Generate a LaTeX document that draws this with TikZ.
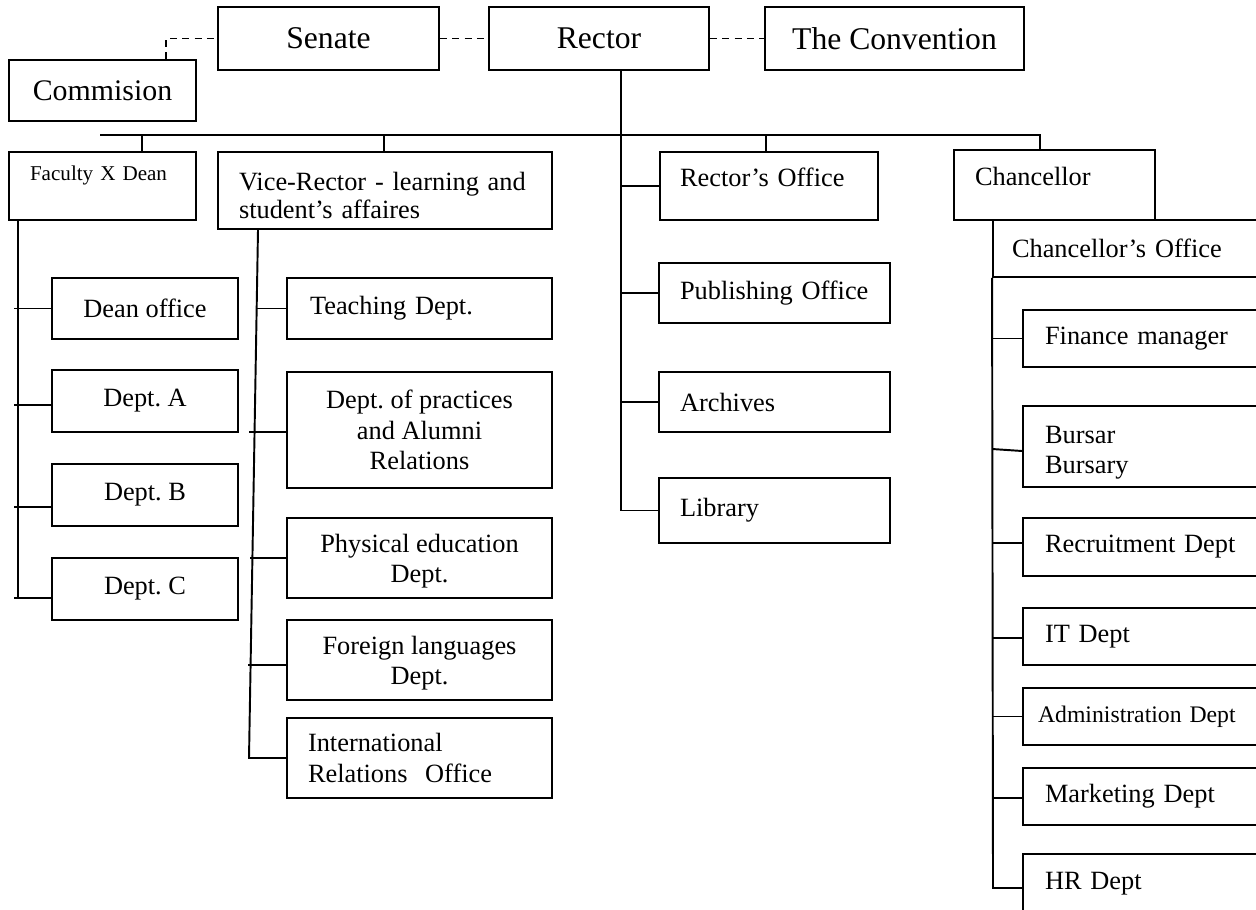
\documentclass[tikz,border=0pt]{standalone}
\usepackage{fontspec}
\setmainfont{Liberation Serif}
\frenchspacing

\begin{document}
\begin{tikzpicture}[
x=0.02cm, y=-0.02cm,
box/.style={draw, line width=1.1pt, inner ysep=0pt, inner xsep=2pt, align=center, font=\fontsize{15}{17.5}\selectfont},
headbox/.style={box, font=\fontsize{18}{21}\selectfont},
lbox/.style={box, align=left},
deancol/.style={box, minimum width=3.72cm, minimum height=1.24cm},
vrcol/.style={box, minimum width=5.30cm},
rectcol/.style={lbox, text width=3.78cm, inner xsep=0.42cm},
chcol/.style={lbox, text width=4.16cm, inner xsep=0.44cm, minimum height=1.14cm},
link/.style={line width=1.1pt},
dashlink/.style={line width=1.1pt, dash pattern=on 4pt off 3pt},
]
\useasboundingbox (0,0) rectangle (1256,909);
\clip (0,0) rectangle (1256,909);

%Top row
\node[headbox, minimum width=4.42cm, minimum height=1.26cm] (senate) at (328.5,38.5) {Senate};
\node[headbox, minimum width=4.40cm, minimum height=1.26cm] (rector) at (599,38.5) {Rector};
\node[headbox, minimum width=5.18cm, minimum height=1.26cm] (convention) at (894.5,38.5) {The Convention};
\node[headbox, minimum width=3.74cm, minimum height=1.22cm, font=\fontsize{17}{20}\selectfont] (commision) at (102.5,90.5) {Commision};

%Second row
\node[lbox, text width=2.90cm, inner xsep=0.42cm, minimum height=1.36cm, text height=8pt, text depth=13.7pt, font=\fontsize{12}{14}\selectfont] (faculty) at (102.5,186) {Faculty X Dean};
\node[lbox, text width=5.84cm, inner xsep=0.42cm, minimum height=1.54cm, font=\fontsize{15}{16}\selectfont] (vicerector) at (385,190.5) {\rule{0pt}{16pt}Vice-Rector - learning and\\student's affaires};
\node[lbox, text width=3.56cm, inner xsep=0.40cm, minimum height=1.36cm, text height=10pt, text depth=10pt] (roffice) at (769,186) {Rector's Office};
\node[lbox, text width=3.18cm, inner xsep=0.42cm, minimum height=1.40cm, text height=10pt, text depth=10pt] (chancellor) at (1054.5,185) {Chancellor};
\node[lbox, text width=4.88cm, inner xsep=0.38cm, minimum height=1.14cm] (choffice) at (1134,248.5) {Chancellor's Office};

%Faculty
\node[deancol, minimum height=1.22cm] (deanoff) at (145,308.5) {Dean office};
\node[deancol] (depta) at (145,401) {Dept. A};
\node[deancol] (deptb) at (145,495) {Dept. B};
\node[deancol] (deptc) at (145,589) {Dept. C};

%Vice-Rector
\node[vrcol, lbox, text width=4.38cm, inner xsep=0.46cm, minimum height=1.22cm] (teaching) at (419.5,308.5) {Teaching Dept.};
\node[vrcol, minimum height=2.32cm] (practices) at (419.5,430) {Dept. of practices\\and Alumni\\Relations};
\node[vrcol, minimum height=1.60cm] (physed) at (419.5,558) {\rule{0pt}{14pt}Physical education\\Dept.};
\node[vrcol, minimum height=1.60cm] (foreign) at (419.5,660) {\rule{0pt}{14pt}Foreign languages\\Dept.};
\node[lbox, text width=4.46cm, inner xsep=0.42cm, minimum height=1.60cm] (intl) at (419.5,758) {International\\Relations\ \ Office};

%Rector
\node[rectcol, minimum height=1.20cm] (publishing) at (774.5,293) {Publishing Office};
\node[rectcol, minimum height=1.20cm] (archives) at (774.5,402) {Archives};
\node[rectcol, minimum height=1.30cm] (library) at (774.5,510.5) {Library};

%Chancellor
\node[chcol] (finance) at (1149,338.5) {Finance manager};
\node[chcol, minimum height=1.62cm] (bursar) at (1149,446.5) {\rule{0pt}{17pt}Bursar\\Bursary};
\node[chcol, minimum height=1.16cm] (recruit) at (1149,547) {Recruitment Dept};
\node[chcol] (itdept) at (1149,636.5) {IT Dept};
\node[chcol, text width=4.44cm, inner xsep=0.30cm, font=\fontsize{13.5}{16}\selectfont] (admin) at (1149,716.5) {Administration Dept};
\node[chcol] (marketing) at (1149,796.5) {Marketing Dept};
\node[chcol, minimum height=1.20cm] (hr) at (1149,884) {HR Dept};

%Coordinates
\coordinate (cdash) at (166,38.5);
\coordinate (busL) at (100,135);
\coordinate (busR) at (1040,135);
\coordinate (tapF) at (142,135);
\coordinate (tapV) at (384,135);
\coordinate (tapR) at (766,135);
\coordinate (ftrunk) at (18,0);
\coordinate (fend) at (18,598);
\coordinate (vtop) at (258,0);
\coordinate (vbot) at (249,758);
\coordinate (rtrunk) at (621,0);
\coordinate (cend) at (993,888);

%Dashed links
\draw[dashlink] (cdash |- commision.north) -- (cdash) -- (senate.west);
\draw[dashlink] (senate.east) -- (rector.west);
\draw[dashlink] (rector.east) -- (convention.west);

%Bus
\draw[link] (busL) -- (busR) -- (busR |- chancellor.north);
\draw[link] (tapF) -- (tapF |- faculty.north);
\draw[link] (tapV) -- (tapV |- vicerector.north);
\draw[link] (tapR) -- (tapR |- roffice.north);

%Rector line
\draw[link] (rtrunk |- rector.south) -- (rtrunk |- library.west) -- (library.west);
\draw[link] (rtrunk |- roffice.west) -- (roffice.west);
\draw[link] (rtrunk |- publishing.west) -- (publishing.west);
\draw[link] (rtrunk |- archives.west) -- (archives.west);

%Faculty line
\draw[link] (ftrunk |- faculty.south) -- (fend);
\draw[link] (deanoff.west) -- ++(-37,0);
\draw[link] ([yshift=-0.08cm]depta.west) -- ++(-37,0);
\draw[link] ([yshift=-0.24cm]deptb.west) -- ++(-37,0);
\draw[link] ([yshift=-0.18cm]deptc.west) -- ++(-37,0);

%Vice-Rector line
\draw[link] (vicerector.south -| vtop) -- (vbot) -- (intl.west);
\draw[link] (teaching.west) -- ++(-30,0);
\draw[link] ([yshift=-0.04cm]practices.west) -- ++(-37,0);
\draw[link] (physed.west) -- ++(-36,0);
\draw[link] ([yshift=-0.10cm]foreign.west) -- ++(-38,0);

%Chancellor line
\draw[link] (choffice.south west) -- (cend) -- (cend -| hr.west);
\draw[link] (finance.west) -- ++(-30,0);
\draw[link] ([yshift=-0.09cm]bursar.west) -- ++(-30,-2);
\draw[link] ([yshift=0.08cm]recruit.west) -- ++(-30,0);
\draw[link] ([yshift=-0.03cm]itdept.west) -- ++(-30,0);
\draw[link] (admin.west) -- ++(-30,0);
\draw[link] ([yshift=-0.03cm]marketing.west) -- ++(-30,0);

\end{tikzpicture}
\end{document}
